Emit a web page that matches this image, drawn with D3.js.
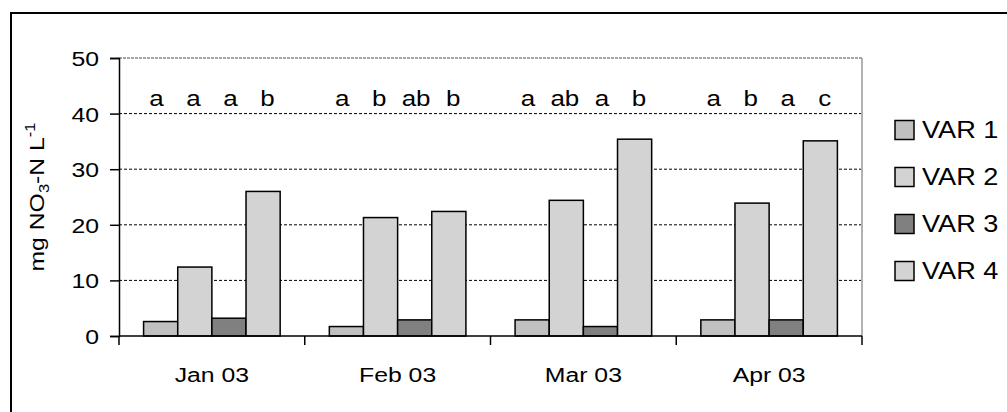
<!DOCTYPE html>
<html>
<head>
<meta charset="utf-8">
<script src="https://cdn.jsdelivr.net/npm/d3@7"></script>
<style>
  body { margin: 0; background: #fff; }
  svg { display: block; font-family: "Liberation Sans", Arial, sans-serif; }
</style>
</head>
<body>
<svg id="chart" width="1007" height="412"></svg>
<script>
// chart data
const months = ["Jan 03", "Feb 03", "Mar 03", "Apr 03"];
const seriesNames = ["VAR 1", "VAR 2", "VAR 3", "VAR 4"];
const var1 = [2.6, 1.7, 2.9, 2.9];
const var2 = [12.4, 21.3, 24.4, 23.9];
const var3 = [3.2, 2.9, 1.7, 2.9];
const var4 = [26.0, 22.4, 35.4, 35.1];
const letters = [
    ["a", "a", "a", "b"],
    ["a", "b", "ab", "b"],
    ["a", "ab", "a", "b"],
    ["a", "b", "a", "c"]
];
const yTicks = [0, 10, 20, 30, 40, 50];
const fills = ["#c0c0c0", "#d3d3d3", "#808080", "#d3d3d3"];

const values = [var1, var2, var3, var4];
const data = [];
months.forEach((m, i) => {
    seriesNames.forEach((s, j) => data.push({ month: m, series: s, value: values[j][i], fill: fills[j] }));
});

const svg = d3.select("#chart");
const sx = 1.18; // text in the source is stretched horizontally

// outer frame
svg.append("rect")
    .attr("x", 11).attr("y", 13)
    .attr("width", 1100).attr("height", 500)
    .attr("fill", "none").attr("stroke", "#000").attr("stroke-width", 2);

const plot = { left: 119, right: 862, top: 58, bottom: 336 };

const x = d3.scaleBand().domain(months).range([plot.left, plot.right]);
const xs = d3.scaleBand().domain(seriesNames).range([0, x.bandwidth()]).paddingOuter(0.72);
const y = d3.scaleLinear().domain([0, 50]).range([plot.bottom, plot.top]);

// plot area border (grey): dotted top, solid right
svg.append("line")
    .attr("x1", plot.left).attr("x2", plot.right)
    .attr("y1", plot.top).attr("y2", plot.top)
    .attr("stroke", "#888").attr("stroke-width", 1.5)
    .attr("stroke-dasharray", "3,1");
svg.append("line")
    .attr("x1", plot.right).attr("x2", plot.right)
    .attr("y1", plot.top).attr("y2", plot.bottom)
    .attr("stroke", "#999").attr("stroke-width", 1.5);

// gridlines
svg.append("g")
    .selectAll("line")
    .data(yTicks.filter(t => t > 0 && t < 50))
    .join("line")
    .attr("x1", plot.left).attr("x2", plot.right - 1)
    .attr("y1", d => y(d)).attr("y2", d => y(d))
    .attr("stroke", "#000").attr("stroke-width", 1)
    .attr("stroke-dasharray", "3,2");

// bars
svg.append("g")
    .selectAll("rect")
    .data(data)
    .join("rect")
    .attr("x", d => x(d.month) + xs(d.series))
    .attr("y", d => y(d.value))
    .attr("width", xs.bandwidth())
    .attr("height", d => y(0) - y(d.value))
    .attr("fill", d => d.fill)
    .attr("stroke", "#000")
    .attr("stroke-width", 1.5);

// y axis
const yAxis = svg.append("g")
    .attr("transform", `translate(${plot.left},0)`)
    .call(d3.axisLeft(y).tickValues(yTicks).tickSize(9).tickPadding(4));
yAxis.select(".domain").attr("stroke-width", 1.5);
yAxis.selectAll(".tick line").attr("stroke-width", 1.5);
yAxis.selectAll(".tick text")
    .attr("font-size", 21)
    .attr("fill", "#000")
    .attr("dy", "0.36em")
    .attr("transform", `scale(${sx},1)`)
    .attr("x", -20 / sx);

// x axis: ticks on category boundaries
svg.append("line")
    .attr("x1", plot.left).attr("x2", plot.right)
    .attr("y1", plot.bottom).attr("y2", plot.bottom)
    .attr("stroke", "#000").attr("stroke-width", 1.5);
const bounds = months.map(m => x(m)).concat([plot.right]);
svg.append("g")
    .selectAll("line")
    .data(bounds)
    .join("line")
    .attr("x1", d => d).attr("x2", d => d)
    .attr("y1", plot.bottom).attr("y2", plot.bottom + 9)
    .attr("stroke", "#000").attr("stroke-width", 1.5);

svg.append("g")
    .selectAll("text")
    .data(months)
    .join("text")
    .attr("transform", d => `translate(${x(d) + x.bandwidth() / 2},382) scale(${sx},1)`)
    .attr("text-anchor", "middle")
    .attr("font-size", 21)
    .text(d => d);

// significance letters
months.forEach((m, i) => {
    const cx = x(m) + x.bandwidth() / 2;
    svg.append("g")
        .selectAll("text")
        .data(letters[i])
        .join("text")
        .attr("transform", (d, k) => `translate(${cx + (k - 1.5) * 37},106) scale(${sx},1)`)
        .attr("text-anchor", "middle")
        .attr("font-size", 22)
        .text(d => d);
});

// y axis title
const title = svg.append("text")
    .attr("transform", `translate(44,${(plot.top + plot.bottom) / 2}) rotate(-90) scale(${sx},1)`)
    .attr("text-anchor", "middle")
    .attr("font-size", 21);
title.append("tspan").text("mg NO");
title.append("tspan").attr("font-size", 14).attr("dy", 5).text("3");
title.append("tspan").attr("dy", -5).text("-N L");
title.append("tspan").attr("font-size", 14).attr("dy", -9).text("-1");

// legend
const legend = svg.append("g")
    .selectAll("g")
    .data(seriesNames)
    .join("g")
    .attr("transform", (d, i) => `translate(895,${130 + i * 47})`);
legend.append("rect")
    .attr("x", 0).attr("y", -9.5)
    .attr("width", 19).attr("height", 19)
    .attr("fill", (d, i) => fills[i])
    .attr("stroke", "#000").attr("stroke-width", 1.5);
legend.append("text")
    .attr("transform", `translate(27,0) scale(${sx},1)`)
    .attr("dy", "0.36em")
    .attr("font-size", 23)
    .text(d => d);
</script>
</body>
</html>
